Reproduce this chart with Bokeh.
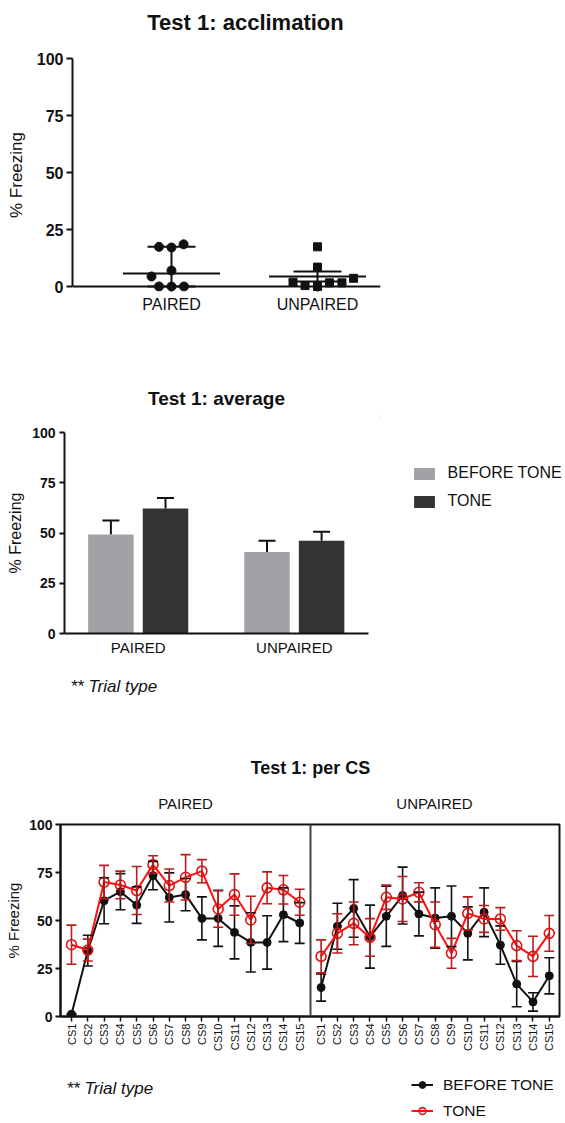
import math
from bokeh.plotting import figure
from bokeh.layouts import column, row
from bokeh.models import (Range1d, FixedTicker, Span, Label, Whisker, TeeHead,
                          ColumnDataSource, Legend, LegendItem)
from bokeh.embed import file_html
from bokeh.resources import INLINE

FONT = "Liberation Sans"
W = 565

# ---------------- data ----------------
y_ticks = [0, 25, 50, 75, 100]

# Test 1: acclimation (individual animals, % freezing)
acc_groups = ["PAIRED", "UNPAIRED"]
acc_paired = [18.5, 17.1, 17.4, 7.0, 4.4, 0.0, 0.0, 0.0]
acc_unpaired = [17.4, 8.5, 3.6, 1.9, 1.6, 1.6, 0.4, 0.0]
acc_center = [5.7, 4.4]
acc_lower = [0.0, 2.2]
acc_upper = [17.4, 6.6]

# Test 1: average
avg_groups = ["PAIRED", "UNPAIRED"]
avg_before = [49.3, 40.5]
avg_before_sem = [6.9, 5.6]
avg_tone = [62.2, 46.1]
avg_tone_sem = [5.2, 4.5]

# Test 1: per CS
cs_labels = ["CS1", "CS2", "CS3", "CS4", "CS5", "CS6", "CS7", "CS8",
             "CS9", "CS10", "CS11", "CS12", "CS13", "CS14", "CS15"]
paired_before = [1.2, 34.3, 60.3, 65.0, 58.0, 73.4, 62.0, 63.5,
                 51.1, 51.1, 43.8, 38.6, 38.6, 53.0, 48.7]
paired_before_sem = [0.0, 8.0, 12.0, 9.4, 9.5, 7.4, 12.8, 8.4,
                     11.2, 14.6, 13.8, 15.4, 13.9, 14.0, 10.6]
paired_tone = [37.4, 34.6, 70.0, 68.5, 65.6, 79.1, 68.2, 72.5,
               75.7, 56.0, 63.5, 50.3, 67.0, 66.0, 59.5]
paired_tone_sem = [10.2, 5.7, 8.7, 7.2, 12.5, 4.6, 8.6, 11.8,
                   6.0, 9.5, 10.8, 12.3, 8.3, 7.4, 6.8]
unpaired_before = [15.1, 47.0, 56.3, 41.6, 52.2, 63.0, 53.4, 51.3,
                   52.2, 43.3, 54.3, 37.2, 16.9, 7.6, 21.2]
unpaired_before_sem = [7.1, 12.0, 15.0, 16.4, 15.7, 14.8, 11.4, 15.7,
                       15.8, 13.8, 12.7, 10.0, 11.8, 4.8, 9.4]
unpaired_tone = [31.3, 43.3, 48.5, 41.2, 62.1, 61.2, 64.7, 47.8,
                 32.9, 53.7, 50.8, 50.8, 36.9, 31.3, 43.3]
unpaired_tone_sem = [8.6, 10.2, 11.1, 9.8, 6.3, 11.7, 5.0, 11.8,
                     7.8, 8.6, 7.0, 5.9, 7.8, 10.5, 9.3]

series_names = ["BEFORE TONE", "TONE"]

BLACK = "#111111"
LIGHT = "#a2a2a6"
DARK = "#333333"
RED = "#ff1010"
DARKRED = "#b81c1c"
MARKRED = "#e01515"


def style_axes(p, tick_size, label_size):
    for ax in (p.xaxis[0], p.yaxis[0]):
        ax.axis_line_width = 2
        ax.axis_line_color = BLACK
        ax.major_tick_line_width = 2
        ax.major_tick_line_color = BLACK
        ax.minor_tick_line_color = None
        ax.major_label_text_font = FONT
        ax.major_label_text_color = BLACK
        ax.axis_label_text_font = FONT
        ax.axis_label_text_font_style = "normal"
        ax.axis_label_text_color = BLACK
    p.yaxis[0].ticker = FixedTicker(ticks=y_ticks)
    p.yaxis[0].bounds = (0, 100)
    p.yaxis[0].major_tick_out = 6
    p.yaxis[0].major_tick_in = 0
    p.yaxis[0].major_label_text_font_style = "bold"
    p.yaxis[0].major_label_text_font_size = tick_size
    p.yaxis[0].axis_label_text_font_size = label_size
    p.xgrid.grid_line_color = None
    p.ygrid.grid_line_color = None


def text_fig(width, height):
    """A plain drawing area whose data units are pixels from its top-left corner."""
    f = figure(width=width, height=height, x_range=Range1d(0, width), y_range=Range1d(height, 0),
               x_axis_location=None, y_axis_location=None, min_border=0,
               output_backend="svg", toolbar_location=None, tools="")
    f.frame_align = False
    f.outline_line_color = None
    f.grid.visible = False
    return f


def swarm_offsets(vals, px_per_y, d):
    placed = []
    offs = [0.0] * len(vals)
    for i in sorted(range(len(vals)), key=lambda k: vals[k]):
        y = vals[i] * px_per_y
        intervals = []
        for (px, py) in placed:
            dy = abs(y - py)
            if dy < d:
                w = math.sqrt(d * d - dy * dy)
                intervals.append((px - w, px + w))
        cands = [0.0] + [e for iv in intervals for e in iv]
        cands.sort(key=lambda c: (abs(c), c))
        choice = cands[-1]
        for c in cands:
            if all(not (a + 1e-9 < c < b - 1e-9) for a, b in intervals):
                choice = c
                break
        offs[i] = choice
        placed.append((choice, y))
    return offs


def txt(p, x, y, text, size, style="normal", align="center"):
    p.add_layout(Label(x=x, y=y, text=text, text_font=FONT, text_font_size=size,
                       text_font_style=style, text_align=align,
                       text_baseline="middle", text_color=BLACK))


# ---------------- title 1 ----------------
t1 = text_fig(W, 45)
txt(t1, 245, 21.5, "Test 1: acclimation", "22px", "bold")

# ---------------- panel 1: acclimation ----------------
PX1 = 146.0          # px per category unit
PY1 = 2.28           # px per % unit
eps1 = 5 / PY1
p1 = figure(width=W, height=295, frame_width=308, frame_height=233,
            min_border_left=72, min_border_right=185, min_border_top=13, min_border_bottom=49,
            x_range=Range1d(1 - 99 / PX1, 1 - 99 / PX1 + 308 / PX1),
            y_range=Range1d(-eps1, 100),
            output_backend="svg", toolbar_location=None, tools="")
p1.frame_align = False
p1.outline_line_color = None
style_axes(p1, "16px", "17px")
p1.yaxis[0].axis_label = "% Freezing"
p1.yaxis[0].axis_label_standoff = 8
p1.yaxis[0].major_label_standoff = 3
xa = p1.xaxis[0]
xa.ticker = FixedTicker(ticks=[1, 2])
xa.major_label_overrides = {1: acc_groups[0], 2: acc_groups[1]}
xa.axis_line_color = None
xa.major_tick_in = 5
xa.major_tick_out = 0
xa.major_label_standoff = 4
xa.major_label_text_font_size = "16px"
p1.add_layout(Span(location=0, dimension="width", line_color=BLACK, line_width=2))

for gi, (vals, marker, size) in enumerate([(acc_paired, "circle", 9), (acc_unpaired, "square", 8)]):
    pos = gi + 1
    offs = swarm_offsets(vals, PY1, 12.5)
    p1.scatter(x=[pos + o / PX1 for o in offs], y=vals, marker=marker, size=size,
               fill_color=BLACK, line_color=BLACK)

acc_pos = [1, 2]
p1.segment(x0=[x - 48.5 / PX1 for x in acc_pos], x1=[x + 48.5 / PX1 for x in acc_pos],
           y0=acc_center, y1=acc_center, line_color=BLACK, line_width=2)
src_acc = ColumnDataSource(dict(x=acc_pos, lo=acc_lower, hi=acc_upper))
p1.add_layout(Whisker(source=src_acc, base="x", lower="lo", upper="hi", dimension="height",
                      line_color=BLACK, line_width=2,
                      upper_head=TeeHead(size=48, line_color=BLACK, line_width=2),
                      lower_head=TeeHead(size=48, line_color=BLACK, line_width=2)))

# ---------------- title 2 ----------------
t2 = text_fig(W, 75)
txt(t2, 216, 58, "Test 1: average", "19px", "bold")

# ---------------- panel 2: average ----------------
PX2 = 156.1
PY2 = 2.016
FW2 = 304
p2 = figure(width=380, height=260, frame_width=FW2, frame_height=201,
            min_border_left=64, min_border_right=12, min_border_top=17, min_border_bottom=42,
            x_range=Range1d(1 - 73.7 / PX2, 1 - 73.7 / PX2 + FW2 / PX2),
            y_range=Range1d(0, 100),
            output_backend="svg", toolbar_location=None, tools="")
p2.frame_align = False
p2.outline_line_color = None
style_axes(p2, "14px", "16px")
p2.yaxis[0].major_tick_out = 5
p2.yaxis[0].axis_label = "% Freezing"
p2.yaxis[0].axis_label_standoff = 5
p2.yaxis[0].major_label_standoff = 4
xa2 = p2.xaxis[0]
xa2.ticker = FixedTicker(ticks=[1, 2])
xa2.major_label_overrides = {1: avg_groups[0], 2: avg_groups[1]}
xa2.major_tick_out = 0
xa2.major_tick_in = 0
xa2.major_label_standoff = 5
xa2.major_label_text_font_size = "15px"

off2 = 27.3 / PX2
bw = 45.5 / PX2
pos2 = [1, 2]
xb = [x - off2 for x in pos2]
xt = [x + off2 for x in pos2]
p2.vbar(x=xb, top=avg_before, width=bw, bottom=0, fill_color=LIGHT, line_color=None)
p2.vbar(x=xt, top=avg_tone, width=bw, bottom=0, fill_color=DARK, line_color=None)
for xs, m, s in [(xb, avg_before, avg_before_sem), (xt, avg_tone, avg_tone_sem)]:
    src = ColumnDataSource(dict(x=xs, lo=m, hi=[a + b for a, b in zip(m, s)]))
    p2.add_layout(Whisker(source=src, base="x", lower="lo", upper="hi", dimension="height",
                          line_color=BLACK, line_width=2,
                          upper_head=TeeHead(size=17, line_color=BLACK, line_width=2),
                          lower_head=None))

# legend for panel 2 (own area to the right; proxy glyphs sit outside the visible range)
l2 = text_fig(W - 380, 260)
lb_before = l2.vbar(x=[-100], top=[1], width=1, fill_color=LIGHT, line_color=None)
lb_tone = l2.vbar(x=[-100], top=[1], width=1, fill_color=DARK, line_color=None)
leg2 = Legend(items=[LegendItem(label=series_names[0], renderers=[lb_before]),
                     LegendItem(label=series_names[1], renderers=[lb_tone])],
              location=(30.6, 165), orientation="vertical",
              glyph_width=26, glyph_height=15, label_height=18, spacing=10,
              label_standoff=11, padding=0, margin=0,
              border_line_color=None, background_fill_alpha=0,
              label_text_font=FONT, label_text_font_size="16px", label_text_color=BLACK)
l2.add_layout(leg2)

# ---------------- texts between panel 2 and panel 3 ----------------
t3 = text_fig(W, 140)
txt(t3, 70, 11, "** Trial type", "17px", "italic", "left")
txt(t3, 310, 92, "Test 1: per CS", "18px", "bold")
txt(t3, 185, 128, "PAIRED", "15px")
txt(t3, 434, 128, "UNPAIRED", "15px")

# ---------------- panel 3: per CS ----------------
PX3 = 16.3
GAP = 15.3125
x_start3 = 1 - 11 / PX3
p3 = figure(width=W, height=255, frame_width=499, frame_height=192,
            min_border_left=60, min_border_right=6, min_border_top=9, min_border_bottom=54,
            x_range=Range1d(x_start3, x_start3 + 499 / PX3),
            y_range=Range1d(0, 100),
            output_backend="svg", toolbar_location=None, tools="")
p3.frame_align = False
p3.outline_line_color = BLACK
p3.outline_line_width = 2
style_axes(p3, "14px", "15px")
p3.yaxis[0].major_tick_out = 5
p3.yaxis[0].axis_label = "% Freezing"
p3.yaxis[0].axis_label_standoff = 4
p3.yaxis[0].major_label_standoff = 3
xp = list(range(1, 16))
xu = [i + GAP for i in xp]
xa3 = p3.xaxis[0]
xa3.ticker = FixedTicker(ticks=xp + xu)
ov = {}
for x, lab in zip(xp, cs_labels):
    ov[x] = lab
for x, lab in zip(xu, cs_labels):
    ov[x] = lab
xa3.major_label_overrides = ov
xa3.major_label_orientation = math.pi / 2
xa3.major_label_text_font_size = "11px"
xa3.major_label_standoff = 2
xa3.major_tick_out = 5
xa3.major_tick_in = 0
xa3.major_tick_line_width = 1.5

divider_x = x_start3 + 250 / PX3
p3.add_layout(Span(location=divider_x, dimension="height", line_color="#444444", line_width=2))

groups = [(xp, paired_before, paired_before_sem, paired_tone, paired_tone_sem),
          (xu, unpaired_before, unpaired_before_sem, unpaired_tone, unpaired_tone_sem)]
for xs, b, bs, t, ts in groups:
    for m, s, col in [(b, bs, BLACK), (t, ts, DARKRED)]:
        src = ColumnDataSource(dict(x=xs, lo=[a - e for a, e in zip(m, s)],
                                    hi=[a + e for a, e in zip(m, s)]))
        p3.add_layout(Whisker(source=src, base="x", lower="lo", upper="hi", dimension="height",
                              line_color=col, line_width=1.6, level="glyph",
                              upper_head=TeeHead(size=10, line_color=col, line_width=1.6),
                              lower_head=TeeHead(size=10, line_color=col, line_width=1.6)))
    p3.line(x=xs, y=b, line_color=BLACK, line_width=2)
    p3.scatter(x=xs, y=b, marker="circle", size=8, fill_color=BLACK, line_color=BLACK)
    p3.line(x=xs, y=t, line_color=RED, line_width=2)
    p3.scatter(x=xs, y=t, marker="circle", size=10, fill_color=None,
               line_color=MARKRED, line_width=1.6)

# ---------------- footer: note + legend for panel 3 ----------------
f3 = text_fig(W, 51)
txt(f3, 66, 18, "** Trial type", "17px", "italic", "left")
px_off = [-100, -90]
fl_b = f3.line(x=px_off, y=px_off, line_color=BLACK, line_width=2)
fs_b = f3.scatter(x=px_off, y=px_off, marker="circle", size=8, fill_color=BLACK, line_color=BLACK)
fl_t = f3.line(x=px_off, y=px_off, line_color=RED, line_width=2)
fs_t = f3.scatter(x=px_off, y=px_off, marker="circle", size=10, fill_color=None,
                  line_color=MARKRED, line_width=1.6)
leg3 = Legend(items=[LegendItem(label=series_names[0], renderers=[fl_b, fs_b]),
                     LegendItem(label=series_names[1], renderers=[fl_t, fs_t])],
              location=(411, 1.5), orientation="vertical",
              glyph_width=22, glyph_height=17, label_height=17, spacing=8,
              label_standoff=10, padding=0, margin=0,
              border_line_color=None, background_fill_alpha=0,
              label_text_font=FONT, label_text_font_size="15.5px", label_text_color=BLACK)
f3.add_layout(leg3)

layout = column(t1, p1, t2, row(p2, l2), t3, p3, f3)
open("out.html", "w").write(file_html(layout, INLINE))
